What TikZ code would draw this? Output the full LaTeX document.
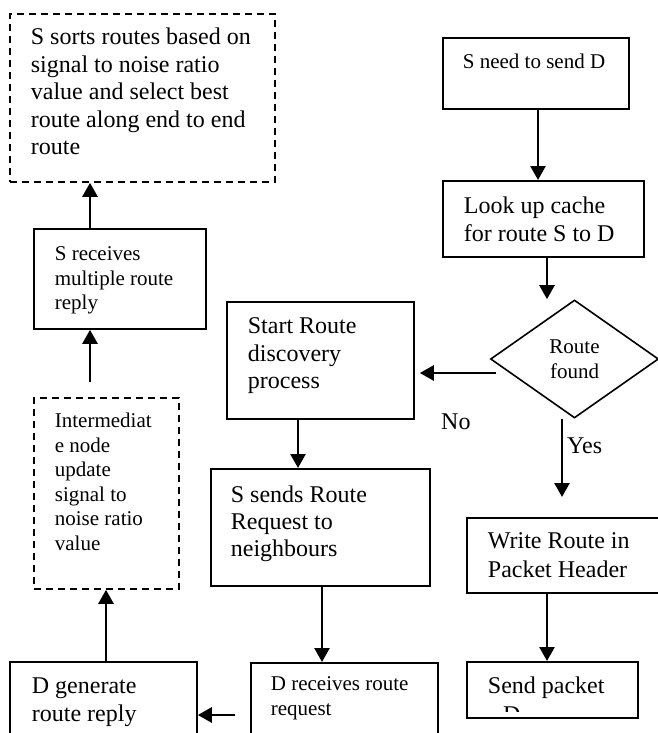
\documentclass[tikz,border=0pt]{standalone}
\usepackage{fontspec}
\setmainfont{Liberation Serif}
\usetikzlibrary{arrows.meta,shapes.geometric}

\begin{document}
\begin{tikzpicture}[x=1pt, y=-1pt,
    big/.style={font=\fontsize{24}{27.5}\selectfont},
    small/.style={font=\fontsize{21}{24.5}\selectfont},
    box/.style={draw, line width=1.8pt, anchor=north west, align=flush left,
      inner xsep=21pt, inner ysep=0pt},
    dashbox/.style={box, dash pattern=on 7pt off 5pt},
    arr/.style={-{Triangle[length=14pt,width=15pt]}, line width=2.6pt}]
      \useasboundingbox (0,0) rectangle (658,733);
      \clip (0,0) rectangle (658,733);

      % Left column, from the top
      \node[dashbox, big, text width=223pt, text height=31pt, text depth=137pt] (sortbox) at (9,13)
        {S sorts routes based on\\signal to noise ratio\\value and select best\\route along end to end\\route};
      \node[box, small, text width=130pt, text height=32pt, text depth=68pt] (replybox) at (33,228)
        {S receives\\multiple route\\reply};
      \node[dashbox, small, text width=103pt, text height=30pt, text depth=161pt] (updatebox) at (33,397)
        {Intermediat\\e node\\update\\signal to\\noise ratio\\value};
      \node[box, big, inner xsep=22pt, text width=143pt, text height=32pt, text depth=67pt] (genbox) at (9,661)
        {D generate\\route reply};

      % Middle column
      \node[box, big, text width=145pt, text height=32pt, text depth=85pt] (startbox) at (226,301)
        {Start Route\\discovery\\process};
      \node[box, big, font=\fontsize{24}{27}\selectfont, inner xsep=20pt, text width=179pt, text height=34pt, text depth=83pt] (sendbox) at (210,468)
        {S sends Route\\Request to\\neighbours};
      \node[box, small, font=\fontsize{21}{25}\selectfont, inner xsep=20pt, text width=147pt, text height=28pt, text depth=70pt] (recvbox) at (250,662)
        {D receives route\\request};

      % Right column
      \node[box, small, inner xsep=20pt, text width=146pt, text height=31pt, text depth=40pt] (needbox) at (442,37)
        {S need to send D};
      \node[box, big, font=\fontsize{24}{28}\selectfont, text width=159pt, text height=33pt, text depth=43pt] (lookbox) at (442,180)
        {Look up cache\\for route S to D};
      \node[diamond, draw, line width=1.6pt, small, align=center, inner sep=0pt,
        minimum width=168pt, minimum height=118pt] (found) at (574.5,359) {Route\\found};
      \node[box, big, font=\fontsize{24}{28.5}\selectfont, text width=172pt, text height=31pt, text depth=44pt] (writebox) at (466,517)
        {Write Route in\\Packet Header};
      \node[box, big, text width=129pt, text height=32pt, text depth=24pt] (packetbox) at (466,661)
        {Send packet};
      \begin{scope}
        \clip (packetbox.north west) rectangle ([yshift=7pt]packetbox.south east);
        \node[big, anchor=base west, inner sep=0pt] (packetrest) at (503,722) {D};
      \end{scope}

      % Labels on the decision
      \node[big, anchor=base west, inner sep=0pt] (nolabel) at (441,429) {No};
      \node[big, anchor=base west, inner sep=0pt] (yeslabel) at (567,453) {Yes};

      % Arrows
      \draw[arr] (538,0 |- needbox.south) -- (538,0 |- lookbox.north);
      \draw[arr] (547,0 |- lookbox.south) -- (547,0 |- found.north);
      \draw[arr, shorten >=5pt] ([xshift=6pt,yshift=-14pt]found.west) -- (startbox.east |- 0,373);
      \draw[arr, shorten >=20pt] (562,0 |- found.south) -- (562,0 |- writebox.north);
      \draw[arr] (547,0 |- writebox.south) -- (547,0 |- packetbox.north);
      \draw[arr] (298,0 |- startbox.south) -- (298,0 |- sendbox.north);
      \draw[arr] (322,0 |- sendbox.south) -- (322,0 |- recvbox.north);
      \draw[arr, shorten <=15pt] (recvbox.west |- 0,715) -- (genbox.east |- 0,715);
      \draw[arr] (106,0 |- genbox.north) -- (106,0 |- updatebox.south);
      \draw[arr, shorten <=15pt] (90,0 |- updatebox.north) -- (90,0 |- replybox.south);
      \draw[arr] (90,0 |- replybox.north) -- (90,0 |- sortbox.south);
\end{tikzpicture}
\end{document}
